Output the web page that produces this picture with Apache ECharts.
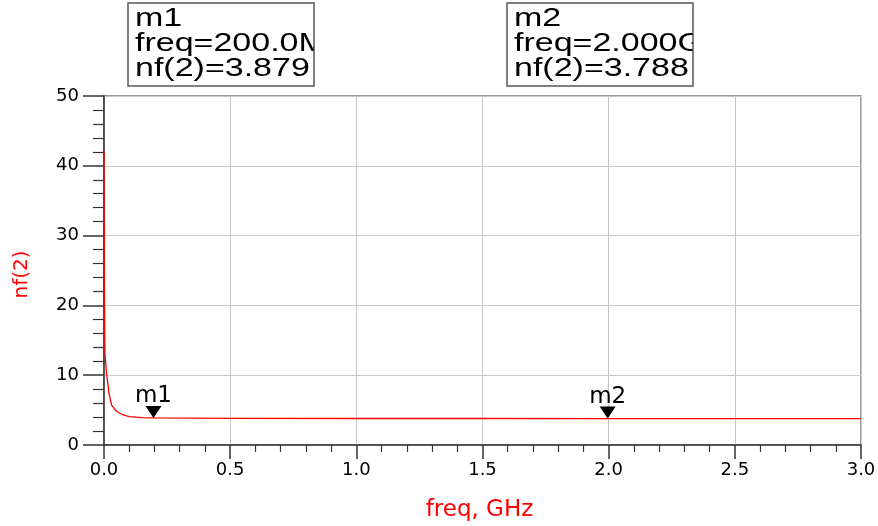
<!DOCTYPE html>
<html>
<head>
  <meta charset="utf-8">
  <script src="https://cdn.jsdelivr.net/npm/echarts@6/dist/echarts.min.js"></script>
  <style>
    html, body { margin: 0; padding: 0; background: #fff; }
    #chart { width: 878px; height: 526px; }
  </style>
</head>
<body>
  <div id="chart"></div>
  <script>
    // nf(2) vs freq (GHz)
    const freq = [0, 0.002, 0.004, 0.01, 0.02, 0.03, 0.05, 0.076, 0.1, 0.15, 0.2, 0.5, 1.0, 1.5, 2.0, 2.5, 3.0];
    const nf   = [42.2, 20, 13, 10.3, 7.4, 5.7, 4.8, 4.3, 4.06, 3.92, 3.879, 3.82, 3.8, 3.793, 3.788, 3.785, 3.782];

    const markerNames = ['m1', 'm2'];
    const markerFreq = [0.2, 2.0];
    const markerNf = [3.879, 3.788];
    const markerFreqText = ['200.0M', '2.000G'];

    const font = '"DejaVu Sans", sans-serif';
    const boxFont = '"Liberation Sans", Arial, sans-serif';
    const chart = echarts.init(document.getElementById('chart'));

    // readout boxes above the plot
    const boxX = [128, 507];
    let graphics = [];
    markerNames.forEach((m, i) => {
      const x = boxX[i];
      graphics.push({
        type: 'text', x: x + 7, y: 7, z: 10,
        scaleX: 1.36,
        style: {
          text: m + '\nfreq=' + markerFreqText[i] + '\nnf(2)=' + markerNf[i].toFixed(3),
          font: '25px ' + boxFont, lineHeight: 25, fill: '#000'
        }
      });
      // cut the text off at the box edge, like the original
      graphics.push({
        type: 'rect', x: x + 186, y: 3, z: 11,
        shape: { width: 40, height: 84 },
        style: { fill: '#fff' }
      });
      graphics.push({
        type: 'rect', x: x, y: 3, z: 12,
        shape: { width: 186, height: 83 },
        style: { fill: 'none', stroke: '#555', lineWidth: 1.5 }
      });
    });

    const option = {
      animation: false,
      backgroundColor: '#fff',
      textStyle: { fontFamily: font },
      grid: {
        left: 104, right: 17, top: 96, bottom: 81,
        outerBoundsMode: 'none',
        show: true, borderColor: '#777', borderWidth: 1.5
      },
      xAxis: {
        type: 'value', min: 0, max: 3, interval: 0.5,
        name: 'freq, GHz', nameLocation: 'middle', nameGap: 54,
        nameTextStyle: { color: '#ff0000', fontSize: 23, fontFamily: font, padding: [0, 6, 0, 0] },
        axisLine: { onZero: false, lineStyle: { color: '#333', width: 1.5 } },
        axisTick: { show: true, inside: false, length: 14, lineStyle: { color: '#333', width: 1.5 } },
        minorTick: { show: true, splitNumber: 5, length: 7, lineStyle: { color: '#333', width: 1.2 } },
        axisLabel: {
          color: '#000', fontSize: 18, margin: 16, fontFamily: font,
          formatter: v => v.toFixed(1)
        },
        splitLine: { show: true, lineStyle: { color: '#c8c8c8', width: 1 } }
      },
      yAxis: {
        type: 'value', min: 0, max: 50, interval: 10,
        name: 'nf(2)', nameLocation: 'middle', nameGap: 72, nameRotate: 90,
        nameTextStyle: { color: '#ff0000', fontSize: 20, fontFamily: font, padding: [0, 8, 0, 0] },
        axisLine: { show: true, lineStyle: { color: '#333', width: 1.5 } },
        axisTick: { show: true, inside: false, length: 21, lineStyle: { color: '#333', width: 1.5 } },
        minorTick: { show: true, splitNumber: 5, length: 11, lineStyle: { color: '#333', width: 1.2 } },
        axisLabel: { color: '#000', fontSize: 18, margin: 25, fontFamily: font },
        splitLine: { show: true, lineStyle: { color: '#c8c8c8', width: 1 } }
      },
      series: [
        {
          type: 'line',
          data: freq.map((f, i) => [f, nf[i]]),
          showSymbol: false,
          lineStyle: { color: '#ff0000', width: 1.3 },
          z: 3
        },
        {
          type: 'scatter',
          data: markerNames.map((m, i) => ({ name: m, value: [markerFreq[i], markerNf[i]] })),
          symbol: 'path://M0,0 L16,0 L8,12 Z',
          symbolSize: [16, 12],
          symbolOffset: [-1, -6],
          itemStyle: { color: '#000', opacity: 1 },
          label: {
            show: true, position: 'top', distance: -2,
            formatter: p => p.name,
            color: '#000', fontSize: 23, fontFamily: font
          },
          z: 5
        }
      ],
      graphic: graphics
    };
    chart.setOption(option);
  </script>
</body>
</html>
